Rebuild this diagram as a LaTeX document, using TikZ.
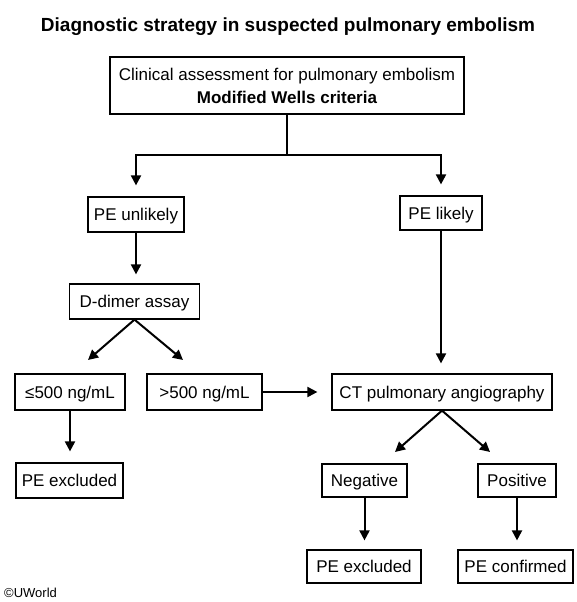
\documentclass[tikz,border=0pt]{standalone}
\usepackage{fontspec}
\setmainfont{Liberation Sans}
\usetikzlibrary{arrows.meta}
\begin{document}
\begin{tikzpicture}[x=1pt,y=-1pt,
  box/.style={draw=black, line width=1.2pt, inner sep=0pt, text=black, font=\fontsize{17}{20}\selectfont},
  sbox/.style={box, text height=12.2pt, text depth=0pt},
  conn/.style={line width=2pt, line join=miter},
  arr/.style={conn, -{Triangle[length=10pt,width=10pt]}}]
\useasboundingbox (0,0) rectangle (577,602);
\node[anchor=base, inner sep=0pt, font=\fontsize{19}{22}\selectfont\bfseries] (title) at (288,32) {Diagnostic strategy in suspected pulmonary embolism};
\node[box, minimum width=354pt, minimum height=57pt, align=center, font=\fontsize{17}{23}\selectfont] (top) at (287,85.5) {Clinical assessment for pulmonary embolism\\ \textbf{Modified Wells criteria}};
\node[sbox, minimum width=96pt, minimum height=35pt] (unl) at (136,214.5) {PE unlikely};
\node[sbox, minimum width=82pt, minimum height=34pt] (lik) at (441,213) {PE likely};
\node[sbox, minimum width=130pt, minimum height=35pt] (dd) at (134.5,301.5) {D-dimer assay};
\node[sbox, minimum width=110pt, minimum height=36pt] (le) at (70,392) {≤500 ng/mL};
\node[sbox, minimum width=115pt, minimum height=36pt] (gt) at (204.5,392) {>500 ng/mL};
\node[sbox, minimum width=220pt, minimum height=36pt] (ct) at (442,392) {CT pulmonary angiography};
\node[sbox, minimum width=107pt, minimum height=35pt] (ex1) at (69.5,480.5) {PE excluded};
\node[sbox, minimum width=85pt, minimum height=33pt] (neg) at (364.5,480.5) {Negative};
\node[sbox, minimum width=78pt, minimum height=33pt] (pos) at (517,480.5) {Positive};
\node[sbox, minimum width=114pt, minimum height=33pt] (ex2) at (364,566.5) {PE excluded};
\node[sbox, minimum width=115pt, minimum height=33pt] (conf) at (515.5,566.5) {PE confirmed};
\node[anchor=base west, inner sep=0pt, font=\fontsize{13}{15}\selectfont] (cr) at (4,597) {©UWorld};
\coordinate (j) at (287,155);
\coordinate (dl) at (88,360);
\coordinate (dr) at (183,360);
\coordinate (cl) at (395,452);
\coordinate (cr2) at (490,452);
\draw[arr, shorten >=11pt] (top.south) -- (j) -| (unl.north);
\draw[arr, shorten >=11pt] (j) -| (lik.north);
\draw[arr, shorten >=9pt] (unl.south) -- (unl.south |- dd.north);
\draw[arr] (dd.south) -- (dl);
\draw[arr] (dd.south) -- (dr);
\draw[arr, shorten >=14pt] (gt) -- (ct);
\draw[arr, shorten >=10pt] (lik.south) -- (lik.south |- ct.north);
\draw[arr, shorten >=11pt] (le.south) -- (le.south |- ex1.north);
\draw[arr] (ct.south) -- (cl);
\draw[arr] (ct.south) -- (cr2);
\draw[arr, shorten >=9pt] (neg.south) -- (neg.south |- ex2.north);
\draw[arr, shorten >=9pt] (pos.south) -- (pos.south |- conf.north);
\end{tikzpicture}
\end{document}
